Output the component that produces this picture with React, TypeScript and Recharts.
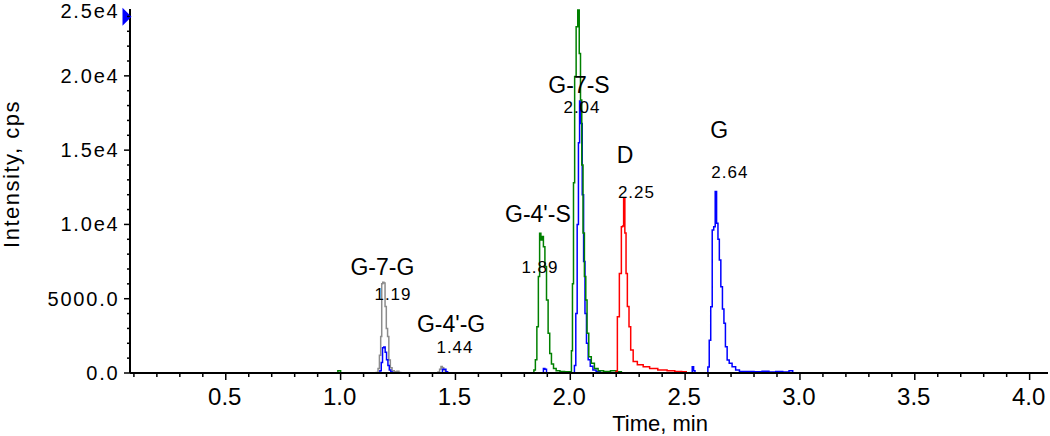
import React from 'react';
import { LineChart, Line, XAxis, YAxis, ReferenceDot } from 'recharts';

type Pt = [number, number | null];

// Time (min) vs intensity (cps); null breaks a trace.
const grayTrace: Pt[] = [
  [1.150, 0], [1.160, 40], [1.166, 300], [1.172, 1200], [1.177, 2450], [1.181, 6000], [1.186, 6100],
  [1.191, 6050], [1.196, 4470], [1.202, 3000], [1.207, 2450], [1.213, 875], [1.220, 350], [1.228, 150],
  [1.240, 80], [1.250, 120], [1.258, 40], [1.265, 0], [1.270, null],
  [1.420, 0], [1.428, 60], [1.434, 250], [1.440, 430], [1.446, 350], [1.452, 200], [1.460, 60], [1.468, 0],
];

const blueTrace: Pt[] = [
  [1.168, 0], [1.174, 150], [1.180, 700], [1.185, 1700], [1.191, 1750], [1.197, 1400], [1.203, 900],
  [1.209, 500], [1.215, 200], [1.222, 60], [1.230, 0], [1.235, null],
  [1.440, 0], [1.447, 250], [1.455, 250], [1.462, 80], [1.470, 0], [1.475, null],
  [1.880, 0], [1.886, 300], [1.893, 250], [1.900, 0], [1.905, null],
  [2.015, 0], [2.021, 500], [2.027, 4000], [2.033, 10000], [2.038, 15500], [2.043, 18300], [2.049, 16800],
  [2.055, 12000], [2.061, 7500], [2.067, 4000], [2.074, 2000], [2.082, 900], [2.092, 450], [2.105, 200],
  [2.120, 80], [2.140, 0], [2.145, null],
  [2.528, 0], [2.534, 420], [2.540, 150], [2.546, 0], [2.550, null],
  [2.596, 0], [2.602, 400], [2.608, 2200], [2.615, 4465], [2.621, 9630], [2.628, 9850], [2.634, 12210],
  [2.640, 10080], [2.646, 9000], [2.652, 7610], [2.659, 5810], [2.666, 4300], [2.672, 3345], [2.679, 1770],
  [2.687, 875], [2.697, 650], [2.712, 425], [2.728, 200], [2.745, 100], [2.780, 100], [2.820, 80],
  [2.850, 120], [2.880, 60], [2.910, 100], [2.940, 60], [2.965, 150], [2.972, 0],
];

const greenTrace: Pt[] = [
  [0.985, 0], [0.991, 150], [0.997, 150], [1.003, 0], [1.010, null],
  [1.838, 0], [1.845, 200], [1.851, 900], [1.858, 3120], [1.864, 6500], [1.869, 9400], [1.875, 8960],
  [1.880, 9180], [1.886, 8500], [1.893, 7160], [1.900, 4916], [1.907, 2670], [1.914, 1320], [1.922, 600],
  [1.932, 300], [1.945, 150], [1.965, 100], [1.985, 80], [2.003, 80], [2.007, 1500], [2.012, 6000],
  [2.016, 12800], [2.022, 19950], [2.029, 23300], [2.036, 24440], [2.042, 21500], [2.047, 18380],
  [2.053, 14000], [2.058, 9420], [2.065, 6500], [2.070, 4916], [2.076, 2670], [2.085, 1100], [2.098, 650],
  [2.112, 300], [2.130, 150], [2.160, 100], [2.190, 150], [2.210, 80], [2.235, 0],
];

const redTrace: Pt[] = [
  [2.196, 0], [2.2015, 100], [2.2085, 3790], [2.2189, 6700], [2.2259, 9840], [2.2300, 9900], [2.2346, 11760],
  [2.2406, 9420], [2.2450, 6700], [2.2520, 4470], [2.2594, 3120], [2.2667, 1550], [2.281, 770], [2.303, 550],
  [2.332, 420], [2.359, 300], [2.403, 200], [2.440, 150], [2.470, 100], [2.500, 80], [2.510, 0],
];

const peakNames = [
  { t: 1.182, v: 6596, text: 'G-7-G' },
  { t: 1.481, v: 2760, text: "G-4'-G" },
  { t: 1.859, v: 10163, text: "G-4'-S" },
  { t: 2.038, v: 18846, text: 'G-7-S' },
  { t: 2.238, v: 14135, text: 'D' },
  { t: 2.648, v: 15817, text: 'G' },
];

const peakTimes = [
  { t: 1.228, v: 4913, text: '1.19' },
  { t: 1.498, v: 1346, text: '1.44' },
  { t: 1.868, v: 6731, text: '1.89' },
  { t: 2.051, v: 17500, text: '2.04' },
  { t: 2.288, v: 11779, text: '2.25' },
  { t: 2.695, v: 13125, text: '2.64' },
];

const xDomain: [number, number] = [0.083, 4.08];
const yDomain: [number, number] = [0, 24500];
const xMajorTicks = [0.5, 1.0, 1.5, 2.0, 2.5, 3.0, 3.5, 4.0];
const xTickLabels = ['0.5', '1.0', '1.5', '2.0', '2.5', '3.0', '3.5', '4.0'];
const xTicks = Array.from({ length: 40 }, (_, i) => (i + 1) / 10);
const yMajorTicks = [0, 5000, 10000, 15000, 20000, 24500];
const yTickLabels = ['0.0', '5000.0', '1.0e4', '1.5e4', '2.0e4', '2.5e4'];
const yTicks = [...Array.from({ length: 25 }, (_, i) => i * 1000), 24500];

const FONT = "'Liberation Sans', Arial, sans-serif";

const rows = (arr: Pt[]) => arr.map(([t, v]) => ({ t, v }));

const XTick = (props: any) => {
  const { x, y, payload } = props;
  const idx = xMajorTicks.findIndex((m) => Math.abs(m - payload.value) < 1e-6);
  const major = idx >= 0;
  return (
    <g>
      <line x1={x} x2={x} y1={y} y2={y + (major ? 7 : 4)} stroke="#000" strokeWidth={1.5} />
      {major && (
        <text x={x - 1} y={y + 32} textAnchor="middle" fontSize={24} fontFamily={FONT} fill="#000">
          {xTickLabels[idx]}
        </text>
      )}
    </g>
  );
};

const YTick = (props: any) => {
  const { x, y, payload } = props;
  const idx = yMajorTicks.findIndex((m) => Math.abs(m - payload.value) < 1e-6);
  const major = idx >= 0;
  const isTop = payload.value === yDomain[1];
  return (
    <g>
      {!isTop && (
        <line x1={x - (major ? 6 : 3)} x2={x} y1={y} y2={y} stroke="#000" strokeWidth={1.5} />
      )}
      {major && (
        <text x={x - 10.5} y={y + (isTop ? 9 : 7)} textAnchor="end" fontSize={20} letterSpacing={1.8} fontFamily={FONT} fill="#000">
          {yTickLabels[idx]}
        </text>
      )}
    </g>
  );
};

const NameShape = (text: string) => (p: any) => (
  <text x={p.cx} y={p.cy} textAnchor="middle" fontSize={23} fontFamily={FONT} fill="#000">
    {text}
  </text>
);

const TimeShape = (text: string) => (p: any) => (
  <text x={p.cx} y={p.cy} textAnchor="middle" fontSize={17} letterSpacing={1} fontFamily={FONT} fill="#000">
    {text}
  </text>
);

const Marker = (p: any) => (
  <polygon points={`${p.cx - 7.5},${p.cy - 9} ${p.cx + 1.5},${p.cy} ${p.cx - 7.5},${p.cy + 9}`} fill="#0000ff" />
);

export default function App() {
  return (
    <div style={{ position: 'absolute', left: 0, top: 0, width: 1050, height: 436, background: '#fff' }}>
      <LineChart width={1050} height={436} margin={{ top: 9, right: 2, bottom: 0, left: 0 }}>
        <XAxis
          type="number"
          dataKey="t"
          domain={xDomain}
          allowDataOverflow
          ticks={xTicks}
          interval={0}
          tick={<XTick />}
          tickLine={false}
          tickSize={0}
          tickMargin={0}
          height={63}
          axisLine={{ stroke: '#000', strokeWidth: 2 }}
        />
        <YAxis
          type="number"
          domain={yDomain}
          allowDataOverflow
          ticks={yTicks}
          interval={0}
          tick={<YTick />}
          tickLine={false}
          tickSize={0}
          tickMargin={0}
          width={130}
          axisLine={{ stroke: '#000', strokeWidth: 2 }}
        />
        <Line data={rows(grayTrace)} dataKey="v" type="step" stroke="#8c8c8c" strokeWidth={1.5} dot={false} isAnimationActive={false} />
        <Line data={rows(blueTrace)} dataKey="v" type="step" stroke="#0000ff" strokeWidth={1.5} dot={false} isAnimationActive={false} />
        <Line data={rows(greenTrace)} dataKey="v" type="step" stroke="#008000" strokeWidth={1.5} dot={false} isAnimationActive={false} />
        <Line data={rows(redTrace)} dataKey="v" type="step" stroke="#ff0000" strokeWidth={1.5} dot={false} isAnimationActive={false} />
        {peakNames.map((d) => (
          <ReferenceDot key={d.text} x={d.t} y={d.v} r={0} ifOverflow="visible" shape={NameShape(d.text)} />
        ))}
        {peakTimes.map((d) => (
          <ReferenceDot key={d.text} x={d.t} y={d.v} r={0} ifOverflow="visible" shape={TimeShape(d.text)} />
        ))}
        <ReferenceDot x={xDomain[0]} y={23973} r={0} ifOverflow="visible" shape={Marker} />
      </LineChart>
      <svg width={1050} height={436} style={{ position: 'absolute', left: 0, top: 0, pointerEvents: 'none' }}>
        <text x={18.5} y={174} transform="rotate(-90 18.5 174)" textAnchor="middle" fontSize={22} letterSpacing={1.5} fontFamily={FONT} fill="#000">
          Intensity, cps
        </text>
        <text x={660} y={431} textAnchor="middle" fontSize={22} fontFamily={FONT} fill="#000">
          Time, min
        </text>
      </svg>
    </div>
  );
}
